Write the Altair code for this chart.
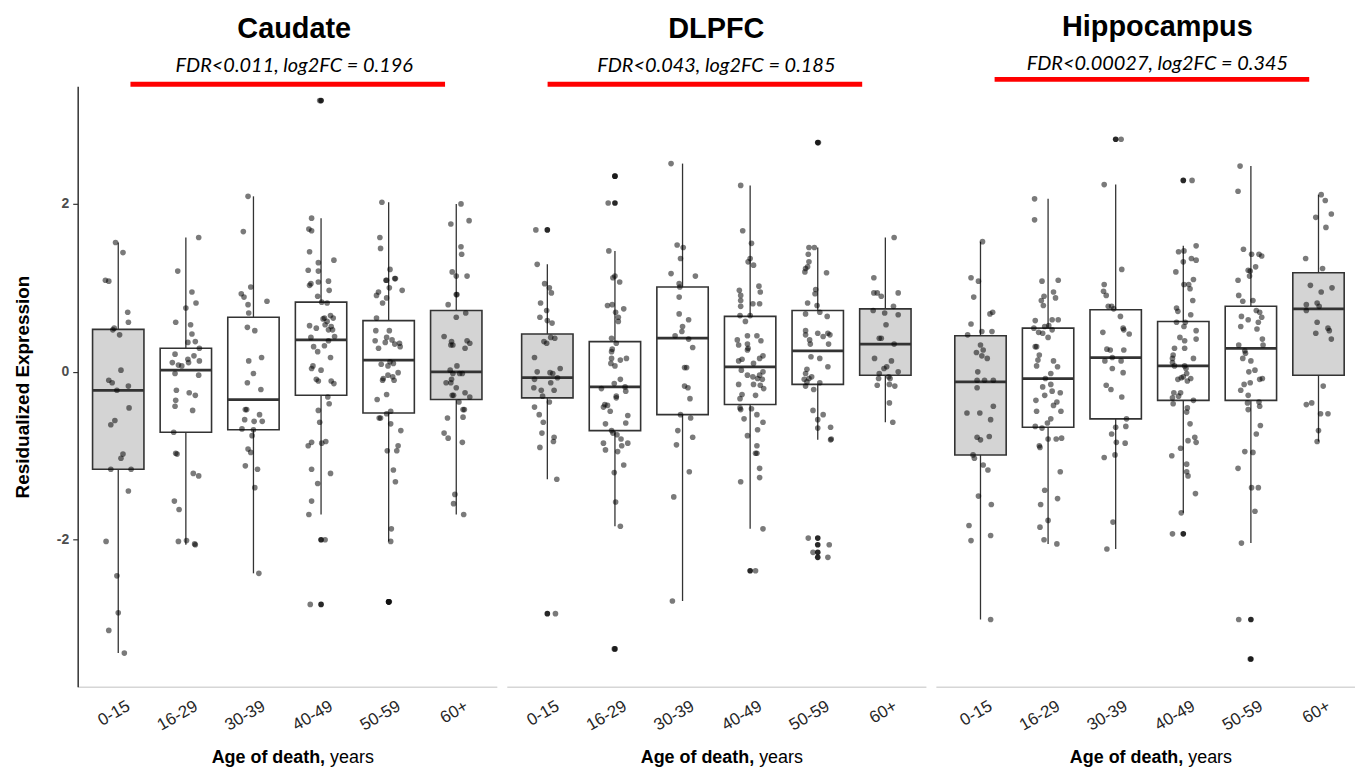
import json
import altair as alt
import pandas as pd

AGES = ["0-15", "16-29", "30-39", "40-49", "50-59", "60+"]
REGIONS = ["Caudate", "DLPFC", "Hippocampus"]
SUBTITLES = ["FDR<0.011, log2FC = 0.196", "FDR<0.043, log2FC = 0.185", "FDR<0.00027, log2FC = 0.345"]
GRAY_AGES = ["0-15", "60+"]

# box statistics (lower whisker, Q1, median, Q3, upper whisker), in AGES order
BOX_LO = {"Caudate": [-3.35, -2.06, -2.40, -1.70, -2.02, -1.70],
          "DLPFC": [-1.28, -1.84, -2.73, -1.87, -0.81, -0.60],
          "Hippocampus": [-2.95, -2.05, -2.11, -1.68, -2.04, -0.83]}
BOX_Q1 = {"Caudate": [-1.16, -0.72, -0.69, -0.28, -0.49, -0.33],
          "DLPFC": [-0.31, -0.70, -0.51, -0.39, -0.15, -0.04],
          "Hippocampus": [-0.99, -0.66, -0.56, -0.34, -0.34, -0.04]}
BOX_MED = {"Caudate": [-0.22, 0.02, -0.33, 0.38, 0.14, 0.0],
           "DLPFC": [-0.07, -0.18, 0.40, 0.06, 0.25, 0.33],
           "Hippocampus": [-0.12, -0.08, 0.17, 0.07, 0.28, 0.75]}
BOX_Q3 = {"Caudate": [0.505, 0.28, 0.65, 0.83, 0.61, 0.73],
          "DLPFC": [0.45, 0.36, 1.01, 0.66, 0.73, 0.75],
          "Hippocampus": [0.43, 0.52, 0.74, 0.60, 0.78, 1.18]}
BOX_HI = {"Caudate": [1.54, 1.60, 2.09, 1.83, 2.02, 2.0],
          "DLPFC": [1.28, 1.44, 2.48, 2.22, 1.48, 1.60],
          "Hippocampus": [1.55, 2.06, 2.23, 1.50, 2.45, 2.11]}

# individual samples: (jitter in category widths, residualized expression)
CAUDATE_POINTS = {
    "0-15": [(-0.04, 1.54), (0.07, 1.42), (-0.19, 1.09), (-0.14, 1.08), (0.14, 0.71), (0.15, 0.59), (-0.08, 0.50),
             (-0.06, 0.52), (0.02, 0.44), (0.04, 0.02), (-0.14, -0.10), (-0.09, -0.13), (-0.02, -0.22), (0.15, -0.17),
             (0.16, -0.43), (-0.05, -0.58), (-0.11, -0.63), (0.07, -0.98), (0.04, -1.03), (-0.11, -1.16), (0.19, -1.16),
             (0.15, -1.42), (-0.18, -2.02), (-0.02, -2.43), (0.0, -2.87), (-0.14, -3.08), (0.09, -3.35)],
    "16-29": [(0.19, 1.60), (-0.12, 1.20), (0.09, 0.95), (0.15, 0.82), (0.0, 0.76), (-0.15, 0.59), (0.07, 0.56),
              (0.09, 0.45), (0.14, 0.36), (0.03, 0.35), (0.20, 0.28), (-0.16, 0.21), (0.12, 0.19), (0.03, 0.15),
              (0.04, 0.11), (0.20, 0.13), (-0.20, 0.11), (-0.11, 0.08), (-0.06, 0.07), (-0.16, -0.02), (0.19, -0.04),
              (-0.14, -0.22), (0.05, -0.25), (0.14, -0.28), (-0.15, -0.34), (-0.16, -0.41), (0.10, -0.46),
              (-0.18, -0.72), (-0.15, -0.97), (-0.13, -0.98), (0.11, -1.21), (0.19, -1.24), (-0.17, -1.54),
              (-0.10, -1.64), (-0.11, -2.02), (0.01, -2.01), (0.14, -2.06), (0.13, -2.05)],
    "30-39": [(-0.08, 2.09), (-0.15, 1.67), (-0.04, 1.01), (-0.18, 0.93), (-0.14, 0.89), (-0.08, 0.80), (0.20, 0.84),
              (-0.07, 0.70), (-0.09, 0.53), (0.02, 0.49), (-0.07, 0.13), (0.12, 0.17), (0.0, -0.02), (-0.09, -0.13),
              (0.11, -0.21), (-0.12, -0.45), (-0.10, -0.45), (0.09, -0.51), (-0.13, -0.57), (0.01, -0.59),
              (0.13, -0.59), (-0.17, -0.68), (-0.02, -0.76), (0.0, -0.69), (-0.08, -0.92), (-0.04, -0.96),
              (-0.12, -1.12), (0.06, -1.16), (0.02, -1.38), (0.08, -2.40)],
    "40-49": [(-0.02, 3.23), (-0.14, 1.83), (-0.18, 1.70), (-0.14, 1.68), (-0.17, 1.43), (0.19, 1.33), (-0.04, 1.30),
              (-0.19, 1.21), (-0.04, 1.20), (-0.15, 1.05), (-0.17, 1.03), (-0.04, 1.07), (0.11, 1.08), (0.12, 0.97),
              (-0.05, 0.90), (0.01, 0.83), (0.09, 0.82), (0.05, 0.64), (0.14, 0.67), (0.18, 0.64), (0.09, 0.60),
              (0.03, 0.63), (-0.17, 0.55), (-0.07, 0.52), (0.06, 0.56), (0.15, 0.54), (0.11, 0.50), (0.17, 0.50),
              (-0.15, 0.41), (0.20, 0.42), (0.11, 0.37), (-0.11, 0.30), (0.05, 0.31), (-0.05, 0.24), (0.14, 0.17),
              (-0.12, 0.07), (0.0, 0.02), (-0.14, 0.04), (-0.07, -0.09), (-0.04, -0.11), (0.15, -0.11), (0.19, -0.14),
              (0.10, -0.30), (0.12, -0.38), (-0.04, -0.46), (-0.02, -0.60), (-0.19, -0.88), (-0.14, -0.84),
              (0.01, -0.85), (0.07, -0.83), (-0.14, -1.16), (0.14, -1.21), (-0.05, -1.33), (-0.14, -1.54),
              (-0.18, -1.70), (0.06, -2.0), (-0.16, -2.77)],
    "50-59": [(-0.10, 2.02), (-0.13, 1.60), (-0.12, 1.47), (0.02, 1.22), (-0.04, 1.09), (-0.03, 1.09), (0.09, 1.11),
              (0.10, 1.11), (-0.18, 0.91), (-0.15, 0.95), (-0.03, 0.88), (0.01, 1.00), (0.20, 0.97), (-0.09, 0.82),
              (-0.18, 0.64), (-0.19, 0.49), (0.01, 0.49), (-0.20, 0.37), (-0.15, 0.28), (-0.05, 0.35), (0.05, 0.38),
              (-0.03, 0.41), (0.09, 0.33), (0.16, 0.34), (0.17, 0.30), (0.14, -0.01), (-0.11, 0.09), (-0.01, 0.07),
              (0.02, 0.12), (0.07, 0.10), (-0.01, -0.04), (-0.08, -0.08), (0.06, -0.06), (0.08, -0.10), (-0.09, -0.10),
              (-0.03, -0.27), (-0.17, -0.33), (-0.14, -0.55), (-0.12, -0.55), (-0.03, -0.50), (0.03, -0.47),
              (0.18, -0.70), (0.03, -0.62), (-0.02, -0.94), (0.12, -0.94), (0.14, -0.88), (0.07, -1.17),
              (0.10, -1.31), (0.04, -1.87), (0.03, -2.02), (0.0, -2.74), (0.01, -2.74)],
    "60+": [(0.07, 2.0), (0.19, 1.80), (-0.08, 1.76), (0.07, 1.49), (0.08, 1.40), (-0.06, 1.19), (0.0, 1.14),
            (0.16, 1.14), (0.0, 0.92), (0.01, 0.92), (-0.12, 0.80), (0.14, 0.70), (0.0, 0.65), (-0.18, 0.42),
            (-0.07, 0.36), (-0.08, 0.32), (-0.05, 0.32), (0.16, 0.37), (0.20, 0.34), (0.13, 0.28), (0.01, 0.07),
            (-0.09, 0.02), (-0.05, -0.02), (0.05, -0.02), (0.09, -0.02), (-0.07, -0.09), (-0.15, -0.13),
            (-0.08, -0.13), (0.0, -0.19), (0.13, -0.25), (0.20, -0.30), (-0.06, -0.28), (-0.04, -0.28),
            (0.04, -0.36), (0.12, -0.45), (0.10, -0.45), (-0.13, -0.55), (0.10, -0.54), (-0.18, -0.73),
            (-0.12, -0.79), (0.09, -0.84), (-0.02, -1.46), (-0.04, -1.57), (0.11, -1.70)],
}

DLPFC_POINTS = {
    "0-15": [(-0.17, 1.69), (-0.15, 1.28), (-0.04, 1.05), (0.03, 1.00), (0.06, 0.94), (-0.10, 0.82), (-0.01, 0.73),
             (-0.11, 0.65), (0.0, 0.61), (0.07, 0.58), (0.05, 0.41), (0.11, 0.40), (-0.05, 0.36), (-0.01, 0.34),
             (-0.19, 0.17), (0.19, 0.04), (-0.15, 0.0), (0.04, -0.01), (0.08, -0.02), (0.15, -0.07), (-0.19, -0.09),
             (0.05, -0.13), (-0.20, -0.19), (-0.09, -0.22), (0.10, -0.22), (-0.07, -0.29), (0.03, -0.36),
             (-0.19, -0.42), (-0.12, -0.51), (-0.06, -0.60), (-0.08, -0.73), (0.10, -0.78), (0.09, -0.83),
             (-0.11, -0.90), (0.14, -1.28), (0.12, -2.88)],
    "16-29": [(0.0, 2.33), (-0.10, 2.01), (-0.09, 1.44), (-0.03, 1.12), (0.0, 1.14), (0.07, 1.07), (-0.11, 0.79),
              (-0.04, 0.80), (0.13, 0.75), (0.01, 0.71), (0.05, 0.65), (0.05, 0.60), (-0.05, 0.40), (0.02, 0.34),
              (-0.04, 0.27), (-0.05, 0.24), (-0.05, 0.16), (0.08, 0.14), (0.17, 0.16), (-0.06, 0.10), (0.0, 0.07),
              (0.08, -0.09), (-0.01, -0.14), (0.15, -0.18), (-0.20, -0.20), (0.02, -0.29), (0.02, -0.31),
              (0.16, -0.23), (-0.15, -0.39), (-0.17, -0.42), (-0.11, -0.40), (-0.07, -0.47), (0.19, -0.52),
              (0.16, -0.61), (-0.14, -0.62), (-0.05, -0.70), (-0.03, -0.73), (0.03, -0.75), (0.09, -0.80),
              (-0.17, -0.85), (0.10, -0.88), (0.19, -0.85), (-0.14, -0.93), (0.04, -0.95), (0.13, -1.11),
              (-0.01, -1.20), (0.01, -1.55), (0.08, -1.84), (-0.01, -3.30)],
    "30-39": [(-0.17, 2.48), (-0.08, 1.51), (0.01, 1.48), (-0.03, 1.35), (-0.17, 1.17), (0.19, 1.14), (-0.05, 1.05),
              (-0.04, 1.01), (-0.05, 0.89), (-0.05, 0.69), (0.09, 0.62), (0.0, 0.54), (-0.01, 0.48), (-0.11, 0.43),
              (0.09, 0.39), (0.15, 0.29), (0.03, 0.05), (0.06, 0.05), (0.03, -0.17), (0.08, -0.19), (0.11, -0.32),
              (-0.03, -0.51), (0.12, -0.55), (-0.07, -0.70), (0.15, -0.78), (-0.09, -0.87), (0.10, -1.19),
              (-0.13, -1.49), (-0.15, -2.73)],
    "40-49": [(-0.14, 2.22), (-0.11, 1.68), (0.02, 1.53), (0.0, 1.35), (-0.03, 1.31), (0.05, 1.27), (-0.16, 0.97),
              (0.13, 1.02), (0.15, 0.95), (-0.14, 0.91), (-0.14, 0.85), (-0.14, 0.78), (0.04, 0.81), (0.14, 0.81),
              (-0.15, 0.67), (-0.07, 0.60), (0.0, 0.67), (-0.19, 0.38), (-0.04, 0.43), (0.10, 0.43), (0.16, 0.37),
              (-0.17, 0.32), (-0.04, 0.33), (-0.04, 0.26), (-0.03, 0.28), (-0.17, 0.13), (-0.12, 0.15), (0.05, 0.10),
              (0.19, 0.19), (0.14, 0.16), (-0.13, 0.02), (-0.04, -0.04), (0.04, -0.06), (0.14, -0.04), (0.19, 0.0),
              (0.11, -0.08), (0.18, -0.09), (-0.17, -0.15), (0.05, -0.15), (0.15, -0.16), (0.20, -0.20),
              (-0.12, -0.27), (-0.15, -0.32), (0.08, -0.28), (-0.15, -0.43), (-0.14, -0.45), (0.02, -0.44),
              (0.10, -0.51), (-0.09, -0.56), (0.19, -0.60), (0.11, -0.69), (-0.04, -0.76), (0.10, -0.88),
              (0.08, -0.97), (0.10, -0.97), (0.14, -1.15), (0.14, -1.26), (-0.14, -1.31), (0.19, -1.87),
              (0.08, -2.37)],
    "50-59": [(0.01, 2.73), (-0.13, 1.48), (-0.05, 1.48), (-0.14, 1.40), (-0.13, 1.31), (-0.18, 1.23), (-0.19, 1.19),
              (-0.15, 1.25), (0.13, 1.18), (-0.03, 0.98), (-0.04, 0.93), (-0.01, 0.79), (-0.15, 0.82), (-0.18, 0.69),
              (0.03, 0.71), (0.14, 0.66), (-0.18, 0.49), (-0.18, 0.44), (-0.12, 0.38), (0.0, 0.46), (0.08, 0.42),
              (0.15, 0.46), (0.18, 0.44), (0.16, 0.33), (-0.11, 0.33), (-0.10, 0.18), (0.03, 0.16), (0.15, 0.06),
              (-0.16, 0.03), (-0.18, -0.02), (-0.20, -0.09), (-0.09, -0.06), (-0.13, -0.08), (-0.18, -0.17),
              (-0.16, -0.12), (0.03, -0.13), (-0.06, -0.21), (-0.07, -0.46), (0.08, -0.51), (0.0, -0.57),
              (0.0, -0.67), (0.19, -0.66), (0.20, -0.80), (0.19, -0.81), (-0.14, -1.98), (0.17, -2.06),
              (-0.07, -2.15), (0.15, -2.21)],
    "60+": [(0.13, 1.60), (-0.17, 1.12), (-0.17, 0.94), (-0.12, 0.94), (-0.06, 0.90), (0.19, 0.94), (0.12, 0.78),
            (-0.18, 0.73), (-0.01, 0.70), (0.19, 0.68), (0.01, 0.56), (-0.09, 0.40), (-0.06, 0.40), (0.13, 0.33),
            (-0.16, 0.16), (0.09, 0.13), (0.02, 0.06), (-0.02, 0.04), (-0.09, -0.02), (0.19, 0.0), (0.05, -0.06),
            (-0.10, -0.08), (0.07, -0.08), (-0.12, -0.16), (0.06, -0.15), (0.14, -0.17), (0.06, -0.37),
            (0.11, -0.60)],
}

HIPPOCAMPUS_POINTS = {
    "0-15": [(0.03, 1.55), (-0.14, 1.12), (-0.03, 1.08), (-0.10, 0.89), (0.14, 0.69), (0.18, 0.71), (-0.14, 0.57),
             (-0.19, 0.44), (0.02, 0.48), (0.17, 0.48), (0.0, 0.32), (0.04, 0.26), (-0.06, 0.23), (0.02, 0.19),
             (0.10, 0.16), (-0.04, 0.0), (-0.05, -0.10), (0.06, -0.10), (0.19, -0.10), (-0.05, -0.19),
             (-0.20, -0.49), (-0.01, -0.49), (0.19, -0.41), (0.15, -0.57), (-0.05, -0.78), (0.0, -0.81),
             (0.13, -0.77), (-0.11, -0.99), (-0.09, -1.03), (0.04, -1.11), (0.11, -1.17), (-0.03, -1.48),
             (0.16, -1.58), (-0.17, -1.83), (0.15, -1.95), (-0.14, -2.01), (0.15, -2.95)],
    "16-29": [(-0.20, 2.06), (-0.20, 1.81), (-0.09, 1.08), (0.15, 1.09), (-0.06, 0.90), (0.08, 0.95), (0.11, 0.88),
              (-0.10, 0.85), (-0.07, 0.79), (-0.19, 0.61), (0.06, 0.62), (0.15, 0.62), (-0.21, 0.52), (-0.05, 0.54),
              (0.01, 0.55), (0.06, 0.50), (-0.14, 0.47), (-0.08, 0.46), (0.0, 0.41), (-0.19, 0.30), (-0.17, 0.30),
              (-0.13, 0.20), (-0.15, 0.14), (-0.17, 0.07), (0.08, 0.13), (0.14, 0.06), (0.04, -0.02), (-0.04, -0.08),
              (-0.08, -0.18), (0.04, -0.15), (0.06, -0.23), (-0.05, -0.28), (0.18, -0.25), (-0.18, -0.34),
              (0.13, -0.36), (0.08, -0.40), (-0.17, -0.47), (0.19, -0.47), (0.04, -0.56), (-0.01, -0.61),
              (-0.19, -0.65), (-0.09, -0.67), (0.0, -0.80), (0.12, -0.80), (0.20, -0.79), (-0.13, -0.88),
              (-0.12, -0.90), (0.18, -1.19), (-0.05, -1.41), (0.14, -1.51), (-0.11, -1.58), (0.0, -1.77),
              (-0.12, -1.85), (-0.06, -2.0), (0.13, -2.05)],
    "30-39": [(0.08, 2.77), (-0.17, 2.23), (0.09, 1.22), (-0.17, 1.04), (-0.18, 0.96), (-0.14, 0.91), (-0.11, 0.78),
              (-0.06, 0.78), (-0.03, 0.75), (0.07, 0.66), (0.11, 0.52), (0.12, 0.50), (0.20, 0.45), (-0.19, 0.47),
              (-0.13, 0.27), (-0.08, 0.26), (0.12, 0.26), (-0.16, 0.13), (-0.05, 0.17), (0.08, 0.13), (-0.05, 0.04),
              (0.11, -0.01), (-0.14, -0.16), (-0.07, -0.21), (0.09, -0.30), (0.16, -0.56), (0.15, -0.65),
              (0.0, -0.66), (-0.06, -0.74), (0.01, -0.84), (0.14, -0.85), (-0.01, -0.99), (-0.17, -1.02),
              (-0.04, -1.79), (-0.13, -2.11)],
    "40-49": [(0.13, 2.28), (-0.07, 1.43), (0.01, 1.44), (0.19, 1.50), (0.12, 1.35), (0.19, 1.33), (0.0, 1.31),
              (-0.11, 1.19), (0.15, 1.10), (0.01, 1.04), (0.08, 1.04), (0.10, 0.99), (0.14, 0.85), (-0.10, 0.76),
              (-0.08, 0.72), (0.11, 0.68), (-0.10, 0.59), (0.01, 0.54), (0.03, 0.59), (0.19, 0.49), (0.19, 0.39),
              (-0.05, 0.41), (0.02, 0.37), (0.02, 0.28), (-0.13, 0.28), (-0.15, 0.20), (-0.16, 0.16), (-0.16, 0.11),
              (0.15, 0.16), (-0.13, 0.07), (0.02, 0.07), (0.04, 0.04), (-0.03, -0.07), (0.0, -0.06), (0.11, -0.08),
              (-0.08, -0.09), (0.05, -0.02), (0.06, -0.11), (-0.14, -0.25), (-0.04, -0.25), (-0.16, -0.31),
              (-0.07, -0.29), (-0.15, -0.38), (0.15, -0.34), (0.06, -0.43), (0.05, -0.48), (0.10, -0.62),
              (0.17, -0.78), (0.07, -0.82), (0.19, -0.84), (-0.04, -0.91), (-0.17, -1.00), (0.05, -1.10),
              (0.05, -1.19), (0.07, -1.24), (0.18, -1.45), (-0.03, -1.68), (-0.16, -1.93)],
    "50-59": [(-0.16, 2.45), (-0.19, 2.15), (-0.11, 1.46), (0.01, 1.40), (0.12, 1.40), (0.16, 1.38), (0.07, 1.25),
              (-0.04, 1.21), (-0.01, 1.20), (-0.02, 1.14), (-0.19, 1.09), (-0.18, 0.91), (-0.12, 0.84), (0.03, 0.85),
              (0.08, 0.73), (0.13, 0.71), (0.16, 0.65), (0.11, 0.59), (-0.14, 0.66), (-0.04, 0.62), (-0.15, 0.54),
              (0.09, 0.51), (0.17, 0.39), (0.18, 0.32), (-0.18, 0.32), (-0.09, 0.25), (-0.08, 0.22), (-0.12, 0.16),
              (0.0, 0.13), (0.06, 0.02), (-0.03, 0.0), (0.17, -0.08), (0.13, -0.09), (-0.10, -0.15), (-0.01, -0.13),
              (-0.15, -0.22), (-0.04, -0.28), (-0.05, -0.37), (-0.04, -0.45), (0.12, -0.36), (0.13, -0.41),
              (0.14, -0.64), (0.08, -0.74), (-0.09, -0.95), (0.03, -0.96), (-0.19, -1.15), (0.01, -1.38),
              (0.11, -1.38), (0.06, -1.66), (-0.14, -2.04), (-0.18, -2.95), (-0.01, -3.42)],
    "60+": [(0.04, 2.11), (0.10, 2.04), (0.19, 1.88), (-0.04, 1.84), (0.11, 1.72), (-0.19, 1.35), (0.06, 1.23),
            (-0.12, 1.03), (0.04, 0.95), (0.20, 1.00), (-0.18, 0.80), (-0.18, 0.73), (-0.02, 0.82), (0.01, 0.78),
            (-0.02, 0.59), (0.14, 0.52), (0.16, 0.49), (-0.04, 0.46), (0.19, 0.39), (0.07, -0.17), (-0.18, -0.39),
            (-0.10, -0.37), (0.03, -0.50), (0.14, -0.50), (0.0, -0.70), (-0.02, -0.83)],
}

POINTS = {"Caudate": CAUDATE_POINTS, "DLPFC": DLPFC_POINTS, "Hippocampus": HIPPOCAMPUS_POINTS}

# values beyond the whiskers (drawn again at the box centre)
OUTLIERS = {
    "Caudate": {"40-49": [3.23, -2.0, -2.77], "50-59": [-2.74, -2.74]},
    "DLPFC": {"0-15": [1.69, -2.88], "16-29": [2.33, 2.01, -3.30], "40-49": [-2.37],
              "50-59": [2.73, -1.98, -2.06, -2.15, -2.21]},
    "Hippocampus": {"30-39": [2.77], "40-49": [2.28, -1.93], "50-59": [-2.95, -3.42]},
}

# ---------------------------------------------------------------- tables
HALF = 0.38
box_rows, pt_rows, out_rows = [], [], []
for r in REGIONS:
    for i, a in enumerate(AGES):
        box_rows.append(dict(region=r, age=a, idx=i, x1=i - HALF, x2=i + HALF,
                             lo=BOX_LO[r][i], q1=BOX_Q1[r][i], med=BOX_MED[r][i],
                             q3=BOX_Q3[r][i], hi=BOX_HI[r][i]))
        for j, v in POINTS[r][a]:
            pt_rows.append(dict(region=r, age=a, xpos=i + j, value=v))
        for v in OUTLIERS[r].get(a, []):
            out_rows.append(dict(region=r, age=a, idx=i, value=v))
box_df = pd.DataFrame(box_rows)
pt_df = pd.DataFrame(pt_rows)
out_df = pd.DataFrame(out_rows)

W, H = 421, 603
X_DOMAINS = {"Caudate": [-0.6, 5.6], "DLPFC": [-0.6, 5.6], "Hippocampus": [-0.66, 5.54]}
Y_DOMAIN = [-3.75, 3.4]
LINE = "#333333"
FONT = "Liberation Sans"


def panel(k, region, subtitle):
    xs = alt.Scale(domain=X_DOMAINS[region], nice=False, zero=False)
    ys = alt.Scale(domain=Y_DOMAIN, nice=False, zero=False)
    xaxis = alt.Axis(values=list(range(len(AGES))), labelExpr=f"{json.dumps(AGES)}[datum.value]",
                     ticks=False, grid=False, domainColor="#d6d6d6", domainWidth=1.5,
                     labelAngle=330, labelAlign="right", labelBaseline="top", labelFont=FONT,
                     labelFontSize=17, labelColor="#262626", labelPadding=11, labelOffset=6, title=None)
    if k == 0:
        yaxis = alt.Axis(values=[-2, 0, 2], labelExpr="'' + datum.value", grid=False,
                         domainColor=LINE, domainWidth=1.5, tickColor=LINE, tickSize=5, tickWidth=1.2,
                         labelFont=FONT, labelFontWeight="bold", labelFontSize=14, labelColor="#4d4d4d",
                         labelPadding=4, title="Residualized Expression", titleFont=FONT,
                         titleFontWeight="bold", titleFontSize=19, titleColor="black", titlePadding=24)
    else:
        yaxis = None

    X = lambda f: alt.X(f, scale=xs, axis=xaxis)
    Y = lambda f: alt.Y(f, scale=ys, axis=yaxis)

    bdata = alt.Chart(box_df[box_df.region == region])
    whisk_lo = bdata.mark_rule(color=LINE, strokeWidth=1.3).encode(x=X("idx:Q"), y=Y("lo:Q"), y2="q1:Q")
    whisk_hi = bdata.mark_rule(color=LINE, strokeWidth=1.3).encode(x=X("idx:Q"), y=Y("q3:Q"), y2="hi:Q")
    box = bdata.mark_rect(stroke=LINE, strokeWidth=1.6).encode(
        x=X("x1:Q"), x2="x2:Q", y=Y("q1:Q"), y2="q3:Q",
        fill=alt.condition(alt.FieldOneOfPredicate(field="age", oneOf=GRAY_AGES),
                           alt.value("#d4d4d4"), alt.value("white")))
    med = bdata.mark_rule(color=LINE, strokeWidth=2.8).encode(x=X("x1:Q"), x2="x2:Q", y=Y("med:Q"))
    pts = alt.Chart(pt_df[pt_df.region == region]).mark_circle(size=32, color="black", opacity=0.52).encode(
        x=X("xpos:Q"), y=Y("value:Q"))
    outs = alt.Chart(out_df[out_df.region == region]).mark_circle(size=32, color="#111111", opacity=0.9).encode(
        x=X("idx:Q"), y=Y("value:Q"))

    one = alt.Data(values=[{"k": 1}])
    hippo = region == "Hippocampus"
    red_x = {"Caudate": (53, 369), "DLPFC": (41, 357), "Hippocampus": (59, 375)}[region]
    red = alt.Chart(one).mark_rule(color="#ff0000", strokeWidth=5).encode(
        x=alt.value(red_x[0]), x2=alt.value(red_x[1]), y=alt.value(-7 if hippo else -2))
    t_bold = alt.Chart(one).mark_text(text="Age of death,", font=FONT, fontWeight="bold", fontSize=18,
                                      align="right", baseline="alphabetic", color="black").encode(
        x=alt.value(W / 2 + 38), y=alt.value(H + 77))
    t_norm = alt.Chart(one).mark_text(text="years", font=FONT, fontSize=18, align="left",
                                      baseline="alphabetic", color="black").encode(
        x=alt.value(W / 2 + 43), y=alt.value(H + 77))

    title_dx = {"Caudate": 7, "DLPFC": 0, "Hippocampus": 12}[region]
    return alt.layer(whisk_lo, whisk_hi, box, med, pts, outs, red, t_bold, t_norm).properties(
        width=W, height=H,
        title=alt.TitleParams(text=region, subtitle=subtitle, anchor="middle", frame="group",
                              font=FONT, fontSize=29, fontWeight="bold", color="black",
                              subtitleFont="Lato", subtitleFontSize=20, subtitleFontStyle="italic",
                              subtitleColor="black", subtitlePadding=12, offset=3 if hippo else 6,
                              dx=title_dx))


chart = alt.hconcat(*[panel(k, r, s) for k, (r, s) in enumerate(zip(REGIONS, SUBTITLES))],
                    spacing=10, bounds="flush").properties(
    padding={"left": 5, "top": 3, "right": 0, "bottom": 0}, background="white"
).configure_view(stroke=None)

chart.save("out.html", embed_options={"renderer": "svg", "actions": False})
